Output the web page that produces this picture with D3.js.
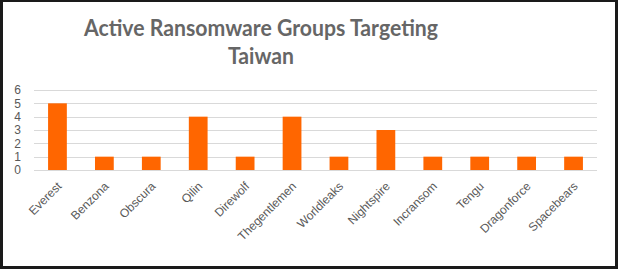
<!DOCTYPE html>
<meta charset="utf-8">
<style>
body { margin: 0; background: #fff; }
.axis .domain { display: none; }
.axis--y .tick line { display: none; }
.axis--x .tick line { display: none; }
</style>
<svg width="618" height="270"></svg>
<script src="https://d3js.org/d3.v7.min.js"></script>
<script>

var groups = ["Everest", "Benzona", "Obscura", "Qilin", "Direwolf", "Thegentlemen",
              "Worldleaks", "Nightspire", "Incransom", "Tengu", "Dragonforce", "Spacebears"];
var counts = [5, 1, 1, 4, 1, 4, 1, 3, 1, 1, 1, 1];
var yTicks = [0, 1, 2, 3, 4, 5, 6];

var svg = d3.select("svg"),
    margin = {top: 90, right: 21, bottom: 100, left: 34},
    width = +svg.attr("width") - margin.left - margin.right,
    height = +svg.attr("height") - margin.top - margin.bottom;

// frame
svg.append("rect")
    .attr("x", 1.5).attr("y", 0.5)
    .attr("width", 615).attr("height", 267)
    .attr("fill", "#fff")
    .attr("stroke", "#1a1a1a")
    .attr("stroke-width", 3);

var title = svg.append("text")
    .attr("text-anchor", "middle")
    .attr("font-family", "'Century Gothic', Lato, sans-serif")
    .attr("font-weight", "bold")
    .attr("font-size", 22)
    .attr("fill", "#666666");
title.append("tspan").attr("x", 261).attr("y", 36)
    .attr("textLength", 354).attr("lengthAdjust", "spacingAndGlyphs")
    .text("Active Ransomware Groups Targeting");
title.append("tspan").attr("x", 261).attr("y", 64)
    .attr("textLength", 66).attr("lengthAdjust", "spacingAndGlyphs")
    .text("Taiwan");

var x = d3.scaleBand().domain(groups).range([0, width]).paddingInner(0.6).paddingOuter(0.3),
    y = d3.scaleLinear().domain([0, 6]).range([height, 0]);

var g = svg.append("g")
    .attr("transform", "translate(" + margin.left + "," + margin.top + ")");

g.append("g")
    .selectAll("line")
    .data(yTicks)
    .enter().append("line")
      .attr("x1", 0).attr("x2", width)
      .attr("y1", function(d) { return Math.round(y(d)) + 0.5; })
      .attr("y2", function(d) { return Math.round(y(d)) + 0.5; })
      .attr("stroke", "#d9d9d9");

g.selectAll(".bar")
    .data(counts)
    .enter().append("rect")
      .attr("class", "bar")
      .attr("x", function(d, i) { return x(groups[i]); })
      .attr("y", function(d) { return y(d); })
      .attr("width", x.bandwidth())
      .attr("height", function(d) { return height - y(d); })
      .attr("fill", "#ff6600");

g.append("g")
    .attr("class", "axis axis--y")
    .call(d3.axisLeft(y).tickValues(yTicks).tickFormat(d3.format("d")).tickSize(0).tickPadding(13))
    .selectAll("text")
      .attr("font-family", "'Liberation Sans', Arial, sans-serif")
      .attr("font-size", 12)
      .attr("fill", "#595959");

g.append("g")
    .attr("class", "axis axis--x")
    .attr("transform", "translate(0," + height + ")")
    .call(d3.axisBottom(x).tickSize(0))
    .selectAll("text")
      .attr("font-family", "'Liberation Sans', Arial, sans-serif")
      .attr("font-size", 12)
      .attr("fill", "#595959")
      .attr("text-anchor", "end")
      .attr("dy", "0.35em")
      .attr("transform", "translate(2,14) rotate(-45)")
      .attr("y", 0);

</script>
